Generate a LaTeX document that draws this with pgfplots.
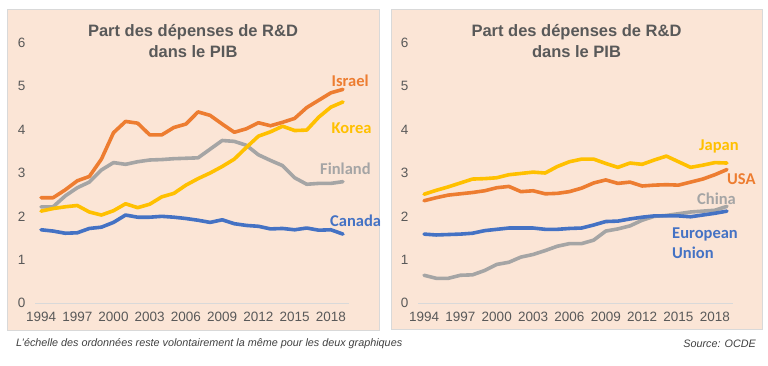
\documentclass[border=0pt]{standalone}
\usepackage{fontspec}
\setmainfont{Liberation Sans}
\newfontfamily\calibri{Carlito}
\usepackage{pgfplots}
\pgfplotsset{compat=1.18}
\definecolor{bgc}{HTML}{FBE5D6}
\definecolor{bordc}{HTML}{D9D9D9}
\definecolor{txtc}{HTML}{595959}
\definecolor{capc}{HTML}{404040}
\definecolor{corange}{HTML}{ED7D31}
\definecolor{cyellow}{HTML}{FFC000}
\definecolor{cgrey}{HTML}{A5A5A5}
\definecolor{cblue}{HTML}{4472C4}
\pgfplotsset{
  rdstyle/.style={
    scale only axis, width=314bp, height=260bp, anchor=south west,
    xmin=1993.5, xmax=2019.5, ymin=0, ymax=6,
    xtick={1994,1997,...,2018}, ytick={0,1,...,6},
    axis line style={draw=none}, major tick length=0pt,
    tick label style={font=\fontsize{13.5bp}{16bp}\selectfont, text=txtc},
    /pgf/number format/assume math mode=true,
    xticklabel style={/pgf/number format/1000 sep={}, yshift=-5.5bp},
    yticklabel style={xshift=-6bp},
    clip=false,
    every axis plot/.append style={line width=3.6bp, line join=round, line cap=round, mark=none},
  }
}
\begin{document}
\begin{tikzpicture}
\useasboundingbox (0,0) rectangle (768bp,366bp);
\fill[white] (0,0) rectangle (768bp,366bp);
\filldraw[fill=bgc, draw=bordc, line width=0.75bp] (7bp,36bp) rectangle (379bp,357bp);
\filldraw[fill=bgc, draw=bordc, line width=0.75bp] (391bp,37bp) rectangle (762bp,357bp);

\begin{axis}[rdstyle, at={(35bp,63bp)}]
\draw[bordc, line width=0.75bp] (axis cs:1993.5,0) -- (axis cs:2019.5,0);
\addplot[cgrey] coordinates {(1994,2.22)(1995,2.22)(1996,2.47)(1997,2.66)(1998,2.79)(1999,3.07)(2000,3.24)(2001,3.20)(2002,3.26)(2003,3.30)(2004,3.31)(2005,3.33)(2006,3.34)(2007,3.35)(2008,3.55)(2009,3.75)(2010,3.73)(2011,3.64)(2012,3.42)(2013,3.29)(2014,3.17)(2015,2.89)(2016,2.74)(2017,2.76)(2018,2.76)(2019,2.80)};
\addplot[cblue] coordinates {(1994,1.69)(1995,1.66)(1996,1.61)(1997,1.62)(1998,1.72)(1999,1.75)(2000,1.86)(2001,2.03)(2002,1.98)(2003,1.98)(2004,2.00)(2005,1.98)(2006,1.95)(2007,1.91)(2008,1.86)(2009,1.92)(2010,1.83)(2011,1.79)(2012,1.77)(2013,1.71)(2014,1.72)(2015,1.69)(2016,1.73)(2017,1.68)(2018,1.69)(2019,1.59)};
\addplot[cyellow] coordinates {(1994,2.12)(1995,2.18)(1996,2.22)(1997,2.25)(1998,2.10)(1999,2.03)(2000,2.13)(2001,2.29)(2002,2.20)(2003,2.28)(2004,2.45)(2005,2.53)(2006,2.72)(2007,2.87)(2008,3.00)(2009,3.15)(2010,3.32)(2011,3.59)(2012,3.85)(2013,3.95)(2014,4.08)(2015,3.98)(2016,3.99)(2017,4.29)(2018,4.52)(2019,4.64)};
\addplot[corange] coordinates {(1994,2.43)(1995,2.43)(1996,2.61)(1997,2.82)(1998,2.92)(1999,3.32)(2000,3.93)(2001,4.19)(2002,4.15)(2003,3.88)(2004,3.88)(2005,4.05)(2006,4.13)(2007,4.41)(2008,4.33)(2009,4.13)(2010,3.94)(2011,4.02)(2012,4.16)(2013,4.09)(2014,4.17)(2015,4.26)(2016,4.51)(2017,4.68)(2018,4.85)(2019,4.93)};
\end{axis}

\begin{axis}[rdstyle, at={(418bp,63bp)}, width=315bp]
\draw[bordc, line width=0.75bp] (axis cs:1993.5,0) -- (axis cs:2019.5,0);
\addplot[cgrey] coordinates {(1994,0.64)(1995,0.57)(1996,0.57)(1997,0.64)(1998,0.65)(1999,0.75)(2000,0.89)(2001,0.94)(2002,1.06)(2003,1.12)(2004,1.21)(2005,1.31)(2006,1.37)(2007,1.37)(2008,1.45)(2009,1.66)(2010,1.71)(2011,1.78)(2012,1.91)(2013,2.00)(2014,2.02)(2015,2.06)(2016,2.10)(2017,2.12)(2018,2.14)(2019,2.23)};
\addplot[cblue] coordinates {(1994,1.59)(1995,1.57)(1996,1.58)(1997,1.59)(1998,1.61)(1999,1.67)(2000,1.70)(2001,1.73)(2002,1.73)(2003,1.73)(2004,1.70)(2005,1.70)(2006,1.72)(2007,1.73)(2008,1.80)(2009,1.88)(2010,1.89)(2011,1.94)(2012,1.98)(2013,2.01)(2014,2.01)(2015,2.01)(2016,1.99)(2017,2.03)(2018,2.07)(2019,2.12)};
\addplot[corange] coordinates {(1994,2.36)(1995,2.43)(1996,2.49)(1997,2.52)(1998,2.55)(1999,2.59)(2000,2.66)(2001,2.69)(2002,2.57)(2003,2.59)(2004,2.52)(2005,2.53)(2006,2.57)(2007,2.65)(2008,2.77)(2009,2.84)(2010,2.76)(2011,2.79)(2012,2.70)(2013,2.72)(2014,2.73)(2015,2.72)(2016,2.79)(2017,2.86)(2018,2.96)(2019,3.08)};
\addplot[cyellow] coordinates {(1994,2.51)(1995,2.60)(1996,2.68)(1997,2.77)(1998,2.86)(1999,2.87)(2000,2.89)(2001,2.96)(2002,2.99)(2003,3.02)(2004,3.00)(2005,3.15)(2006,3.26)(2007,3.32)(2008,3.32)(2009,3.22)(2010,3.13)(2011,3.23)(2012,3.20)(2013,3.30)(2014,3.39)(2015,3.26)(2016,3.13)(2017,3.18)(2018,3.24)(2019,3.23)};
\end{axis}

\node[align=center, font=\bfseries\fontsize{16.5bp}{21bp}\selectfont, text=txtc] at (193bp,324.5bp) {Part des dépenses de R\&D\\dans le PIB};
\node[align=center, font=\bfseries\fontsize{16.5bp}{21bp}\selectfont, text=txtc] at (576.5bp,324.5bp) {Part des dépenses de R\&D\\dans le PIB};

\begin{scope}[every node/.style={anchor=west, inner sep=0pt, font=\calibri\bfseries\fontsize{16.5bp}{20bp}\selectfont}]
\node[text=corange] at (331.5bp,285bp) {Israel};
\node[text=cyellow] at (331.5bp,238bp) {Korea};
\node[text=cgrey] at (320bp,197bp) {Finland};
\node[text=cblue] at (330bp,145bp) {Canada};
\node[text=cyellow] at (699bp,220bp) {Japan};
\node[text=corange] at (727bp,187bp) {USA};
\node[text=cgrey] at (697bp,167bp) {China};
\node[text=cblue, align=left] at (672bp,123bp) {European\\Union};
\end{scope}

\node[anchor=west, inner sep=0pt, font=\itshape\fontsize{10.8bp}{12bp}\selectfont, text=capc] at (16bp,22bp) {L'échelle des ordonnées reste volontairement la même pour les deux graphiques};
\node[anchor=east, inner sep=0pt, font=\itshape\fontsize{10.8bp}{12bp}\selectfont, text=capc] at (756bp,22bp) {Source: OCDE};
\end{tikzpicture}
\end{document}
